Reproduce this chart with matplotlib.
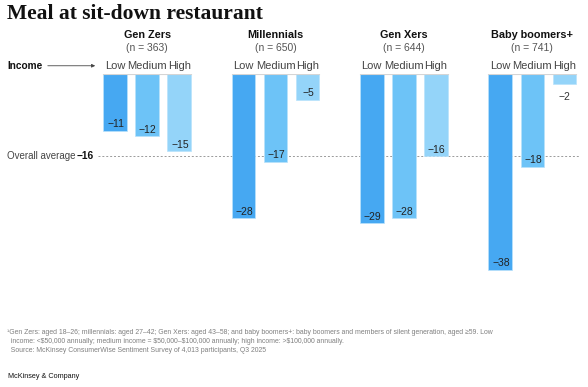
import matplotlib
matplotlib.use("Agg")
import matplotlib.pyplot as plt

# datos
generaciones = ["Gen Zers", "Millennials", "Gen Xers", "Baby boomers+"]
muestras = ["(n = 363)", "(n = 650)", "(n = 644)", "(n = 741)"]
ingresos = ["Low", "Medium", "High"]
val_low = [-11, -28, -29, -38]
val_medium = [-12, -17, -28, -18]
val_high = [-15, -5, -16, -2]
promedio = -16

COLORES = ["#46A8F2", "#6DC3F7", "#94D4F9"]
SANS = "Liberation Sans"

fig = plt.figure(figsize=(5.88, 3.87), dpi=100)
fig.patch.set_facecolor("white")

# eje: y=0 en el pixel 74, 5.15 px por unidad; x=0 en el pixel 115, 32.1 px por unidad
ax = fig.add_axes([0, 0, 1, 313 / 387])
ax.set_xlim(-115 / 32.1, (588 - 115) / 32.1)
ax.set_ylim(-313 / 5.15, 0)
ax.axis("off")

series = [val_low, val_medium, val_high]
for g, gen in enumerate(generaciones):
    base = 4 * g
    for i, vals in enumerate(series):
        x = base + i
        v = vals[g]
        ax.bar(x, v, width=0.73, color=COLORES[i], edgecolor="#B9E2FB",
               linewidth=0.5, zorder=3)
        if v > -4:
            ax.text(x, v - 1.4, f"\u2212{abs(v)}", ha="center", va="top",
                    fontsize=7.5, family=SANS, color="#333333", zorder=4)
        else:
            ax.text(x + 0.02, v + 0.25, f"\u2212{abs(v)}", ha="center",
                    va="bottom", fontsize=7.5, family=SANS, color="#222222",
                    zorder=4)
        ax.text(x, 0.97, ingresos[i], ha="center", va="baseline", fontsize=8,
                family=SANS, color="#444444", clip_on=False)
    ax.plot([base - 0.37, base + 2.37], [0, 0], color="#D5D5D5", lw=0.8,
            zorder=4)
    ax.text(base + 1, 6.9, gen, ha="center", va="baseline", fontsize=7.8,
            family=SANS, fontweight="bold", color="#111111")
    ax.text(base + 1, 4.5, muestras[g], ha="center", va="baseline",
            fontsize=7.5, family=SANS, color="#555555")

# promedio general
ax.plot([-0.53, 14.49], [promedio, promedio], color="#9A9A9A", lw=0.7,
        ls=(0, (2, 2)), zorder=2)
ax.text(-3.36, promedio, "Overall average", ha="left", va="center",
        fontsize=7.0, family=SANS, color="#444444")
ax.text(-1.19, promedio, "\u221216", ha="left", va="center", fontsize=7.3,
        family=SANS, fontweight="bold", color="#111111")

# Income + flecha
ax.text(-3.36, 0.97, "Income", ha="left", va="baseline", fontsize=7.3,
        family=SANS, fontweight="bold", color="#111111")
ax.annotate("", xy=(-0.53, 1.6), xytext=(-2.18, 1.6),
            annotation_clip=False,
            arrowprops=dict(arrowstyle="-|>", color="#444444", lw=0.6,
                            mutation_scale=5))

# titulo
fig.text(7 / 588, 1 - 14 / 387, "Meal at sit-down restaurant", ha="left",
         va="center", fontsize=15.5, family="Liberation Serif",
         fontweight="bold", color="#111111")

# notas
notas = ("\u00b9Gen Zers: aged 18\u201326; millennials: aged 27\u201342; Gen Xers: aged 43\u201358; "
         "and baby boomers+: baby boomers and members of silent generation, aged \u226559. Low\n"
         "  income: <\\$50,000 annually; medium income = \\$50,000\u2013\\$100,000 annually; "
         "high income: >\\$100,000 annually.\n"
         "  Source: McKinsey ConsumerWise Sentiment Survey of 4,013 participants, Q3 2025")
fig.text(7 / 588, 1 - 329 / 387, notas, ha="left", va="top", fontsize=4.95,
         family=SANS, color="#808080", linespacing=1.35)
fig.text(8 / 588, 1 - 377 / 387, "McKinsey & Company", ha="left", va="center",
         fontsize=5.2, family=SANS, color="#111111")

fig.savefig("out.png", dpi=100, facecolor="white")
